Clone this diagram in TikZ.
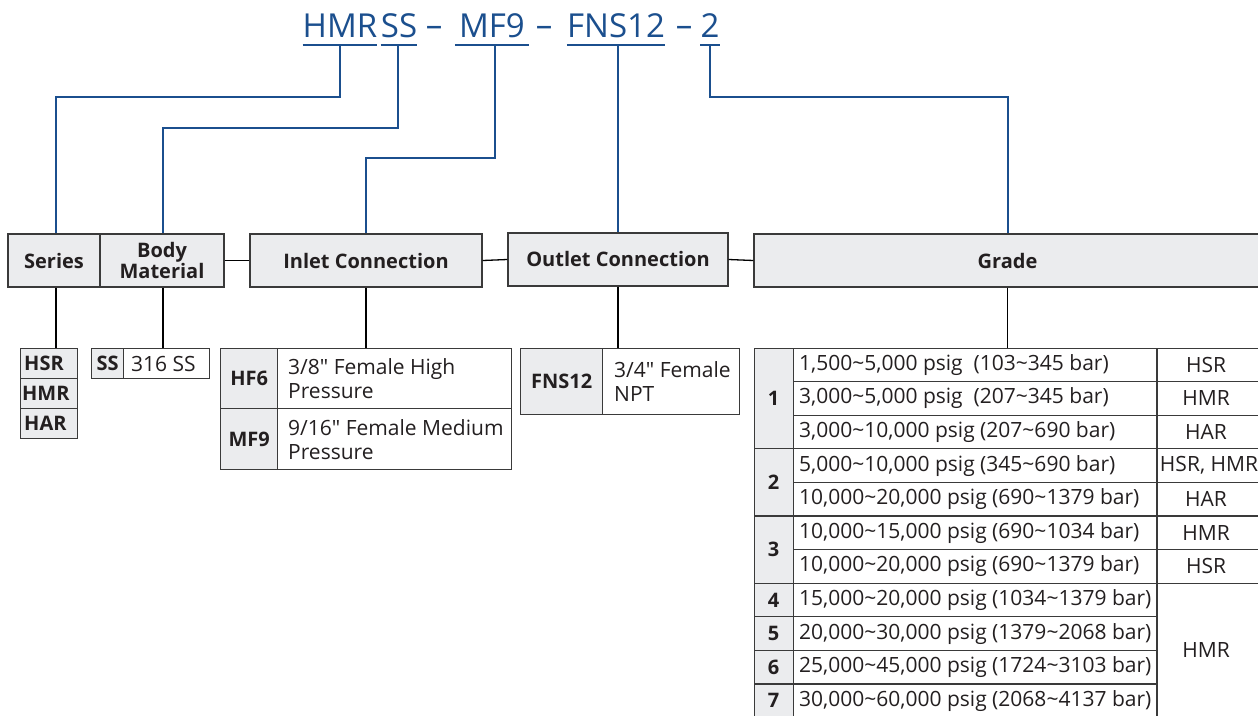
\documentclass[tikz,border=0pt]{standalone}
\usepackage{fontspec}
\setmainfont{Open Sans}[Ligatures=TeXOff]
\definecolor{tblue}{HTML}{1B4F8E}
\definecolor{boxfill}{HTML}{EBECEE}
\definecolor{boxline}{HTML}{3A3A3A}
\definecolor{txt}{HTML}{231F20}
\newcommand\mytilde{\textasciitilde}
\begin{document}
\begin{tikzpicture}[x=1pt,y=-1pt,
  hdr/.style={draw=boxline, fill=boxfill, line width=1.4pt, inner sep=0pt, align=center,
    font=\bfseries\fontsize{20}{21}\selectfont, text=txt, minimum height=53pt},
  codecell/.style={draw=boxline, fill=boxfill, line width=1.4pt, inner sep=0pt, anchor=north west},
  desccell/.style={draw=boxline, fill=white, line width=1.4pt, inner sep=0pt, anchor=north west},
  codetxt/.style={font=\bfseries\fontsize{20}{22}\selectfont, text=txt, inner sep=0pt},
  desctxt/.style={font=\fontsize{21}{24}\selectfont, text=txt, inner sep=0pt, anchor=west, align=left},
  grid/.style={draw=boxline, line width=1.3pt},
  conn/.style={draw=black, line width=1.3pt},
  blueln/.style={draw=tblue, line width=2pt},
  ttl/.style={font=\fontsize{33}{35}\selectfont, text=tblue, inner sep=0pt, anchor=base}
]
\useasboundingbox (0,0) rectangle (1258,715);
\clip (0,0) rectangle (1258,715);
\fill[white] (0,0) rectangle (1258,715);

% ---------- title ----------
\node[ttl, minimum width=70pt] (tHMR) at (340,37) {HMR};
\node[ttl, minimum width=28pt] (tSS) at (399,37) {SS};
\node[ttl] (dA) at (434,36) {–};
\node[ttl, minimum width=74pt] (tMF) at (492,37) {MF9};
\node[ttl] (dB) at (544,36) {–};
\node[ttl, minimum width=90pt] (tFNS) at (616,37) {FNS12};
\node[ttl] (dC) at (684,36) {–};
\node[ttl, minimum width=15pt] (t2) at (710,37) {2};

\foreach \n in {tHMR,tSS,tMF,tFNS,t2}
  \draw[blueln] ([yshift=-8pt]\n.base west) -- ([yshift=-8pt]\n.base east);

\coordinate (uHMR) at ([yshift=-8pt]tHMR.base);
\coordinate (uSS) at ([yshift=-8pt,xshift=-1pt]tSS.base);
\coordinate (uMF) at ([yshift=-8pt,xshift=3pt]tMF.base);
\coordinate (uFNS) at ([yshift=-8pt,xshift=2pt]tFNS.base);
\coordinate (u2) at ([yshift=-8pt]t2.base);

% ---------- header boxes ----------
\node[hdr, minimum width=92pt] (series) at (54,260.5) {Series};
\node[hdr, minimum width=124pt] (body) at (162,260.5) {Body\\Material};
\node[hdr, minimum width=232pt] (inlet) at (366,260.5) {Inlet Connection};
\node[hdr, minimum width=220pt] (outlet) at (618,259.5) {\raisebox{1pt}{Outlet Connection}};
\node[hdr, minimum width=507pt] (grade) at (1007.5,260.5) {Grade};

\draw[conn] (body.east) -- (inlet.west);
\draw[conn] (inlet.east) -- (outlet.west);
\draw[conn] (outlet.east) -- (grade.west);

% blue connectors
\draw[blueln] (uHMR) -- ++(0,52) -| ([xshift=2pt]series.north);
\draw[blueln] (uSS) -- ++(0,83) -| ([xshift=1pt]body.north);
\draw[blueln] (uMF) -- ++(0,113) -| (inlet.north);
\draw[blueln] (uFNS) -- (uFNS |- outlet.north);
\draw[blueln] (u2) -- ++(0,52) -| (grade.north);

% ---------- series list ----------
\node[codecell, minimum width=57pt, minimum height=30pt] (hsrbox) at (20,348) {};
\node[codecell, minimum width=57pt, minimum height=30pt] (hmrbox) at (20,378) {};
\node[codecell, minimum width=57pt, minimum height=30pt] (harbox) at (20,408) {};
\node[codetxt, anchor=west] (hsrt) at ([xshift=4pt]hsrbox.west) {HSR};
\node[codetxt, anchor=west] (hmrt) at ([xshift=2pt]hmrbox.west) {HMR};
\node[codetxt, anchor=west] (hart) at ([xshift=4pt]harbox.west) {HAR};
\draw[conn] ([xshift=2pt]series.south) -- ([xshift=2pt]series.south |- hsrbox.north);

% ---------- body material ----------
\node[codecell, minimum width=32pt, minimum height=30pt] (ssc) at (91,348) {};
\node[desccell, minimum width=86pt, minimum height=30pt] (ssd) at (123,348) {};
\node[codetxt] (sst) at (ssc.center) {SS};
\node[desctxt] (ssdt) at ([xshift=8pt]ssd.west) {316 SS};
\draw[conn] ([xshift=1pt]body.south) -- ([xshift=1pt]body.south |- ssc.north);

% ---------- inlet ----------
\node[codecell, minimum width=57pt, minimum height=60pt] (hf6c) at (220,348) {};
\node[desccell, minimum width=234pt, minimum height=60pt] (hf6d) at (277,348) {};
\node[codecell, minimum width=57pt, minimum height=61pt] (mf9c) at (220,408) {};
\node[desccell, minimum width=234pt, minimum height=61pt] (mf9d) at (277,408) {};
\node[codetxt] (hf6t) at (hf6c.center) {HF6};
\node[codetxt] (mf9t) at (mf9c.center) {MF9};
\node[desctxt] (hf6dt) at ([xshift=11pt]hf6d.west) {3/8" Female High\\Pressure};
\node[desctxt] (mf9dt) at ([xshift=11pt]mf9d.west) {9/16" Female Medium\\Pressure};
\draw[conn] (inlet.south) -- (inlet.south |- hf6c.north);

% ---------- outlet ----------
\node[codecell, minimum width=82pt, minimum height=66pt] (fnsc) at (520,348) {};
\node[desccell, minimum width=137pt, minimum height=66pt] (fnsd) at (602,348) {};
\node[codetxt] (fnst) at (fnsc.center) {FNS12};
\node[desctxt] (fnsdt) at ([xshift=12pt]fnsd.west) {3/4" Female\\NPT};
\draw[conn] (outlet.south) -- (outlet.south |- fnsc.north);

% ---------- grade table ----------
\node[desccell, minimum width=507pt, minimum height=369.6pt] (gtab) at (754,348) {};
\node[codecell, minimum width=39pt, minimum height=369.6pt] (gnum) at (754,348) {};
\draw[grid] (1157,348) -- (1157,717.6);
\foreach \k in {1,...,10}
  \draw[grid] (793,{348+33.6*\k}) -- (1157,{348+33.6*\k});
\foreach \k in {1,...,7}
  \draw[grid] (1157,{348+33.6*\k}) -- (1261,{348+33.6*\k});
\foreach \k in {3,5,7,8,9,10}
  \draw[grid] (754,{348+33.6*\k}) -- (793,{348+33.6*\k});
\draw[conn] (grade.south) -- (grade.south |- gtab.north);

\node[codetxt] (n1) at (773.5,398.4) {1};
\node[codetxt] (n2) at (773.5,482.4) {2};
\node[codetxt] (n3) at (773.5,549.6) {3};
\node[codetxt] (n4) at (773.5,600) {4};
\node[codetxt] (n5) at (773.5,633.6) {5};
\node[codetxt] (n6) at (773.5,667.2) {6};
\node[codetxt] (n7) at (773.5,700.8) {7};

\node[desctxt] (d1) at (799,364.8) {1,500\mytilde 5,000 psig\ \ (103\mytilde 345 bar)};
\node[desctxt] (d2) at (799,398.4) {3,000\mytilde 5,000 psig\ \ (207\mytilde 345 bar)};
\node[desctxt] (d3) at (799,432) {3,000\mytilde 10,000 psig (207\mytilde 690 bar)};
\node[desctxt] (d4) at (799,465.6) {5,000\mytilde 10,000 psig (345\mytilde 690 bar)};
\node[desctxt] (d5) at (799,499.2) {10,000\mytilde 20,000 psig (690\mytilde 1379 bar)};
\node[desctxt] (d6) at (799,532.8) {10,000\mytilde 15,000 psig (690\mytilde 1034 bar)};
\node[desctxt] (d7) at (799,566.4) {10,000\mytilde 20,000 psig (690\mytilde 1379 bar)};
\node[desctxt] (d8) at (799,600) {15,000\mytilde 20,000 psig (1034\mytilde 1379 bar)};
\node[desctxt] (d9) at (799,633.6) {20,000\mytilde 30,000 psig (1379\mytilde 2068 bar)};
\node[desctxt] (d10) at (799,667.2) {25,000\mytilde 45,000 psig (1724\mytilde 3103 bar)};
\node[desctxt] (d11) at (799,700.8) {30,000\mytilde 60,000 psig (2068\mytilde 4137 bar)};

\node[desctxt, anchor=center] (g1) at (1206,364.8) {HSR};
\node[desctxt, anchor=center] (g2) at (1206,398.4) {HMR};
\node[desctxt, anchor=center] (g3) at (1206,432) {HAR};
\node[desctxt, anchor=center] (g4) at (1209,465.6) {HSR, HMR};
\node[desctxt, anchor=center] (g5) at (1206,499.2) {HAR};
\node[desctxt, anchor=center] (g6) at (1206,532.8) {HMR};
\node[desctxt, anchor=center] (g7) at (1206,566.4) {HSR};
\node[desctxt, anchor=center] (g8) at (1206,650.4) {HMR};
\end{tikzpicture}
\end{document}
